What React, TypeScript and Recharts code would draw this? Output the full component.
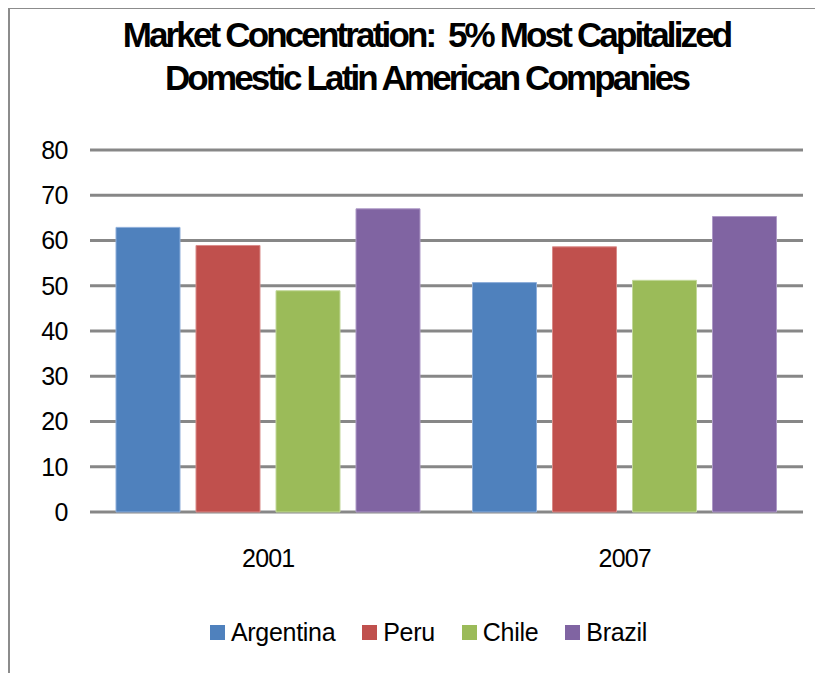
import React from "react";
import { BarChart, Bar, XAxis, YAxis, CartesianGrid, Legend } from "recharts";

const years = ["2001", "2007"];
const argentina = [62.9, 50.7];
const peru = [58.9, 58.6];
const chile = [48.9, 51.2];
const brazil = [67.0, 65.3];
const yTicks = [0, 10, 20, 30, 40, 50, 60, 70, 80];
const titleLines = ["Market Concentration:  5% Most Capitalized", "Domestic Latin American Companies"];

const series = [
  { key: "Argentina", values: argentina, fill: "#4F81BD", stroke: "#8EAEDA" },
  { key: "Peru", values: peru, fill: "#C0504D", stroke: "#D98B89" },
  { key: "Chile", values: chile, fill: "#9BBB59", stroke: "#C2D89A" },
  { key: "Brazil", values: brazil, fill: "#8064A2", stroke: "#AE9AC7" },
];

const data = years.map((y, i) => {
  const row: any = { year: y };
  series.forEach((s) => (row[s.key] = s.values[i]));
  return row;
});

const FONT = "'Liberation Sans', Arial, sans-serif";

const LegendContent = (props: any) => {
  const payload = [...(props.payload || [])].sort(
    (a: any, b: any) =>
      series.findIndex((s) => s.key === a.value) - series.findIndex((s) => s.key === b.value)
  );
  return (
    <div style={{ display: "flex", justifyContent: "center", alignItems: "center", fontFamily: FONT, fontSize: 25, color: "#000" }}>
      {payload.map((p: any, i: number) => (
        <div key={i} style={{ display: "flex", alignItems: "center", marginRight: i < payload.length - 1 ? 27 : 0 }}>
          <span style={{ width: 15, height: 15, background: p.color, display: "inline-block", marginRight: 6 }} />
          <span style={{ lineHeight: "30px", letterSpacing: -0.3 }}>{p.value}</span>
        </div>
      ))}
    </div>
  );
};

export default function App() {
  return (
    <div
      style={{
        position: "relative",
        marginTop: -1,
        width: 813,
        height: 664,
        borderTop: "2px solid #8c8c8c",
        borderLeft: "2px solid #8c8c8c",
        background: "#fff",
        overflow: "hidden",
      }}
    >
      <div
        style={{
          position: "absolute",
          left: 0,
          top: 5,
          width: 833,
          textAlign: "center",
          fontFamily: FONT,
          fontWeight: "bold",
          fontSize: 35,
          lineHeight: "42.5px",
          letterSpacing: -2.85,
          color: "#000",
          whiteSpace: "pre",
        }}
      >
        {titleLines.map((t, i) => (
          <div key={i}>{t}</div>
        ))}
      </div>
      <BarChart
        width={813}
        height={664}
        data={data}
        margin={{ top: 141, right: 20, bottom: 131, left: 0 }}
        barCategoryGap={26}
        barGap={16}
        style={{ position: "absolute", left: 0, top: 0 }}
      >
        <CartesianGrid horizontal={true} vertical={false} stroke="#878787" strokeWidth={3} />
        <XAxis
          dataKey="year"
          axisLine={false}
          tickLine={false}
          tickSize={0}
          tickMargin={37}
          height={30}
          tick={{ fontFamily: FONT, fontSize: 25, fill: "#000", letterSpacing: -0.8 }}
        />
        <YAxis
          domain={[0, 80]}
          ticks={yTicks}
          width={80}
          axisLine={false}
          tickLine={false}
          tickSize={0}
          tickMargin={22}
          tick={{ fontFamily: FONT, fontSize: 25, fill: "#000", letterSpacing: -0.5 }}
          interval={0}
        />
        <Legend
          layout="horizontal"
          verticalAlign="middle"
          align="center"
          content={<LegendContent />}
          wrapperStyle={{ position: "absolute", left: 0, top: 608, width: 837 }}
        />
        {series.map((s) => (
          <Bar key={s.key} dataKey={s.key} fill={s.fill} stroke={s.stroke} strokeWidth={1} isAnimationActive={false} />
        ))}
      </BarChart>
    </div>
  );
}
